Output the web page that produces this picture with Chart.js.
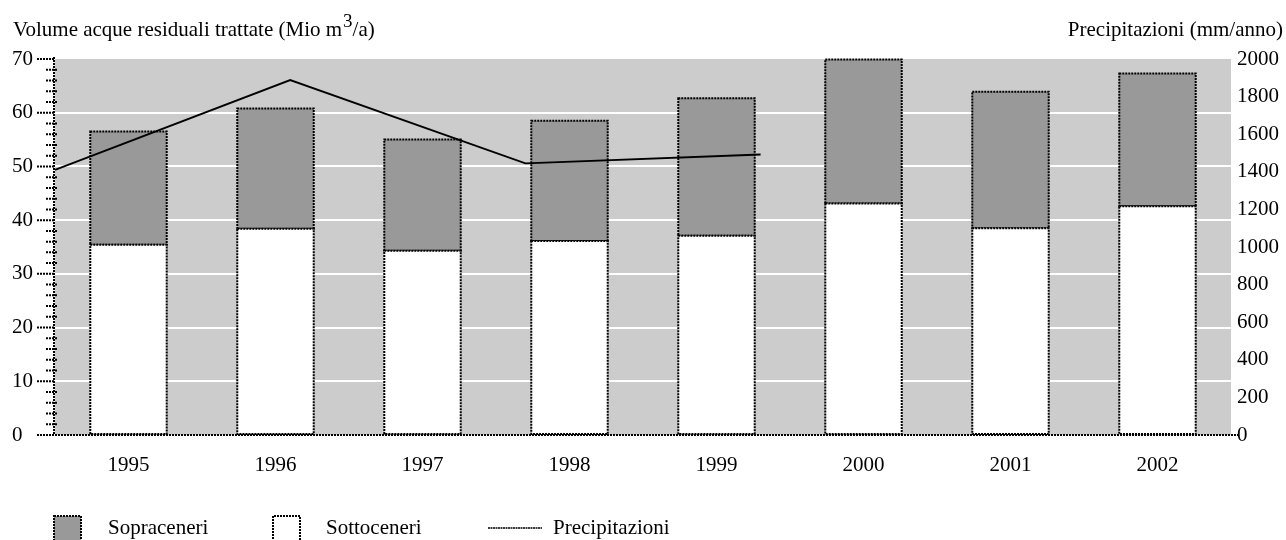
<!DOCTYPE html>
<html lang="it">
<head>
  <meta charset="UTF-8">
  <title>Volume acque residuali trattate</title>
  <script src="https://cdn.jsdelivr.net/npm/chart.js"></script>
  <style>
    body { margin: 0; background: #ffffff; }
    #wrap { width: 1286px; height: 540px; }
  </style>
</head>
<body>
  <div id="wrap">
    <canvas id="myChart" width="1286" height="540"></canvas>
  </div>
  <script>
    // dati
    const anni = ['1995', '1996', '1997', '1998', '1999', '2000', '2001', '2002'];
    const sottoceneri = [35.4, 38.4, 34.3, 36.1, 37.1, 43.1, 38.5, 42.6];
    const sopraceneri = [21.1, 22.4, 20.7, 22.4, 25.6, 26.8, 25.4, 24.7];
    // la linea delle precipitazioni usa un asse a 6 posizioni
    const anniPrecip = ['1995', '1996', '1997', '1998', '1999', '2000'];
    const precipitazioni = [1410, 1888, 1445, 1492, null, null];

    const FONT = '"Liberation Serif", "Times New Roman", serif';

    function dotted(ctx, x1, y1, x2, y2) {
      ctx.beginPath();
      ctx.moveTo(x1, y1);
      ctx.lineTo(x2, y2);
      ctx.stroke();
    }

    // sfondo grigio dell'area del grafico
    const sfondo = {
      id: 'sfondo',
      beforeDraw(chart) {
        const { ctx, chartArea: a } = chart;
        ctx.save();
        ctx.fillStyle = '#cccccc';
        ctx.fillRect(a.left, a.top, a.right - a.left, a.bottom - a.top);
        ctx.restore();
      }
    };

    // bordi tratteggiati delle barre
    const bordiBarre = {
      id: 'bordiBarre',
      afterDatasetDraw(chart, args) {
        const meta = args.meta;
        if (meta.type !== 'bar') return;
        const ctx = chart.ctx;
        ctx.save();
        ctx.strokeStyle = '#000';
        ctx.lineWidth = 2;
        ctx.setLineDash([2, 1]);
        meta.data.forEach(el => {
          const p = el.getProps(['x', 'y', 'base', 'width'], true);
          ctx.strokeRect(p.x - p.width / 2, p.y, p.width, p.base - p.y);
        });
        ctx.restore();
      }
    };

    // assi, tacche, titoli e legenda
    const decorazioni = {
      id: 'decorazioni',
      afterDraw(chart) {
        const { ctx, chartArea: a } = chart;
        const yS = chart.scales.y;
        ctx.save();
        ctx.strokeStyle = '#000';
        ctx.lineWidth = 2;
        ctx.setLineDash([2, 1]);

        // asse sinistro
        dotted(ctx, a.left - 1, a.top - 2, a.left - 1, a.bottom);
        for (let v = 0; v <= 70; v += 2) {
          const y = yS.getPixelForValue(v);
          if (v % 10 === 0) dotted(ctx, a.left - 18, y, a.left, y);
          else dotted(ctx, a.left - 9, y, a.left + 3, y);
        }
        // linea dello zero
        dotted(ctx, a.left - 18, a.bottom, a.right + 9, a.bottom);
        ctx.restore();

        // titoli
        ctx.save();
        ctx.fillStyle = '#000';
        ctx.textBaseline = 'alphabetic';
        ctx.font = '21px ' + FONT;
        let t1 = 'Volume acque residuali trattate (Mio m';
        let x = 13;
        ctx.fillText(t1, x, 36);
        x += ctx.measureText(t1).width;
        ctx.font = '19px ' + FONT;
        ctx.fillText('3', x + 1, 27);
        x += ctx.measureText('3').width + 1;
        ctx.font = '21px ' + FONT;
        ctx.fillText('/a)', x, 36);
        ctx.textAlign = 'right';
        ctx.fillText('Precipitazioni (mm/anno)', 1283, 36);

        // legenda
        ctx.textAlign = 'left';
        ctx.textBaseline = 'middle';
        ctx.fillText('Sopraceneri', 108, 528);
        ctx.fillText('Sottoceneri', 326, 528);
        ctx.fillText('Precipitazioni', 553, 528);

        ctx.fillStyle = '#999999';
        ctx.fillRect(54, 516, 27, 26);
        ctx.strokeStyle = '#000';
        ctx.lineWidth = 2;
        ctx.setLineDash([2, 1]);
        ctx.strokeRect(54, 516, 27, 26);
        ctx.beginPath();
        ctx.moveTo(273, 542);
        ctx.lineTo(273, 516);
        ctx.lineTo(300, 516);
        ctx.lineTo(300, 542);
        ctx.stroke();
        ctx.lineWidth = 1.5;
        ctx.setLineDash([2, 0.5]);
        dotted(ctx, 488, 528, 542, 528);
        ctx.restore();
      }
    };

    const ctx = document.getElementById('myChart').getContext('2d');
    new Chart(ctx, {
      type: 'bar',
      data: {
        labels: anni,
        datasets: [
          {
            label: 'Sottoceneri',
            data: sottoceneri,
            backgroundColor: '#ffffff',
            borderWidth: 0,
            grouped: false,
            order: 1
          },
          {
            label: 'Sopraceneri',
            data: sopraceneri,
            backgroundColor: '#999999',
            borderWidth: 0,
            grouped: false,
            order: 1
          },
          {
            type: 'line',
            label: 'Precipitazioni',
            data: precipitazioni,
            xAxisID: 'x2',
            yAxisID: 'y2',
            borderColor: '#000',
            borderWidth: 1.8,
            pointRadius: 0,
            fill: false,
            tension: 0,
            spanGaps: false,
            order: 0
          }
        ]
      },
      options: {
        responsive: false,
        animation: false,
        layout: { padding: { left: 12, top: 59, right: 0, bottom: 0 } },
        datasets: {
          bar: { categoryPercentage: 1, barPercentage: 0.52 }
        },
        plugins: {
          legend: { display: false },
          tooltip: { enabled: false }
        },
        scales: {
          x: {
            stacked: true,
            offset: true,
            grid: { display: false, drawTicks: false },
            border: { display: false },
            ticks: { color: '#000', font: { family: FONT, size: 21 }, padding: 18, maxRotation: 0 },
            afterFit(scale) { scale.height = 105; }
          },
          x2: {
            type: 'category',
            labels: anniPrecip,
            offset: false,
            display: false
          },
          y: {
            stacked: true,
            position: 'left',
            min: 0,
            max: 70,
            ticks: {
              stepSize: 10,
              color: '#000',
              crossAlign: 'far',
              font: { family: FONT, size: 21 }
            },
            grid: {
              drawTicks: false,
              lineWidth: 2,
              color: c => (c.tick && (c.tick.value === 0 || c.tick.value === 70)) ? 'rgba(0,0,0,0)' : '#ffffff'
            },
            border: { display: false },
            afterFit(scale) { scale.width = 43; }
          },
          y2: {
            position: 'right',
            min: 0,
            max: 2000,
            ticks: {
              stepSize: 200,
              color: '#000',
              padding: 6,
              font: { family: FONT, size: 21 },
              callback: v => String(v)
            },
            grid: { display: false, drawTicks: false },
            border: { display: false },
            afterFit(scale) { scale.width = 55; }
          }
        }
      },
      plugins: [sfondo, bordiBarre, decorazioni]
    });
  </script>
</body>
</html>
